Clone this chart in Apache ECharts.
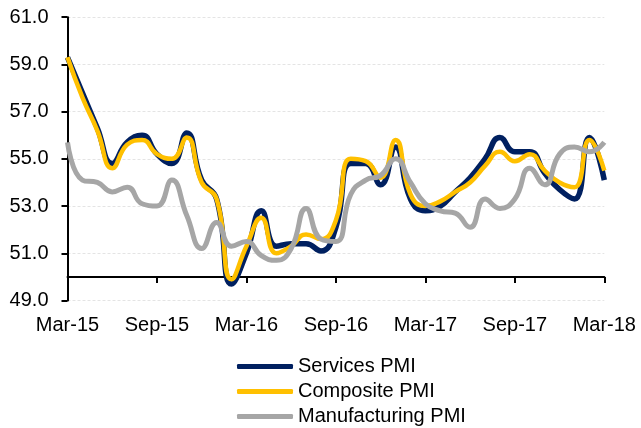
<!DOCTYPE html>
<html>
<head>
<meta charset="utf-8">
<script src="https://cdn.jsdelivr.net/npm/echarts@6/dist/echarts.min.js"></script>
<style>
html,body{margin:0;padding:0;background:#fff;}
#chart{width:641px;height:428px;}
</style>
</head>
<body>
<div id="chart"></div>
<script>
const categories = ["Mar-15","Apr-15","May-15","Jun-15","Jul-15","Aug-15","Sep-15","Oct-15","Nov-15","Dec-15",
  "Jan-16","Feb-16","Mar-16","Apr-16","May-16","Jun-16","Jul-16","Aug-16","Sep-16","Oct-16","Nov-16","Dec-16",
  "Jan-17","Feb-17","Mar-17","Apr-17","May-17","Jun-17","Jul-17","Aug-17","Sep-17","Oct-17","Nov-17","Dec-17",
  "Jan-18","Feb-18","Mar-18"];
const servicesPMI = [59.3,57.8,56.3,54.8,55.7,56.0,55.2,54.8,56.1,54.1,53.3,49.7,51.0,52.8,51.3,51.4,51.4,51.1,52.1,54.8,54.8,53.9,55.5,53.3,52.8,53.0,53.6,54.2,55.0,55.9,55.3,55.3,54.4,53.7,53.3,55.9,54.1];
const compositePMI = [59.3,57.6,56.2,54.6,55.6,55.8,55.2,55.0,55.9,54.0,53.3,49.9,51.3,52.5,51.0,51.3,51.8,51.6,52.4,55.0,54.9,54.2,55.8,53.5,53.0,53.2,53.6,54.0,54.7,55.3,54.9,55.2,54.5,54.0,53.8,55.8,54.5];
const manufacturingPMI = [55.7,54.1,54.0,53.6,53.8,53.1,53.0,54.1,52.6,51.2,52.3,51.3,51.5,50.9,50.7,51.2,52.9,51.6,51.5,53.5,54.1,54.3,55.0,54.0,53.1,52.8,52.7,52.1,53.3,52.9,53.3,54.6,53.9,55.2,55.5,55.3,55.7];
const yTicks = {min: 49, max: 61, step: 2};
const seriesNames = ["Services PMI","Composite PMI","Manufacturing PMI"];

const FONT = "'Liberation Sans', Arial, sans-serif";
const chart = echarts.init(document.getElementById('chart'), null, {renderer: 'canvas'});
chart.setOption({
  animation: false,
  color: ['#002060', '#FFC000', '#A6A6A6'],
  textStyle: {fontFamily: FONT, color: '#000'},
  grid: [
    {left: 67.5, right: 36.7, top: 17.2, bottom: 127.5, containLabel: false},
    {left: 67.5, right: 36.7, top: 17.2, bottom: 151.1, containLabel: false}
  ],
  xAxis: [
    {
      gridIndex: 0, type: 'category', data: categories, boundaryGap: false,
      axisLine: {show: false}, axisTick: {show: false},
      axisLabel: {interval: 5, margin: 15, fontSize: 20, color: '#000', fontFamily: FONT},
      splitLine: {show: false}
    },
    {
      gridIndex: 1, type: 'category', data: categories, boundaryGap: false,
      axisLine: {show: true, lineStyle: {color: '#000', width: 2}},
      axisTick: {show: true, interval: 5, length: 6, lineStyle: {color: '#000', width: 2}},
      axisLabel: {show: false}, splitLine: {show: false}
    }
  ],
  yAxis: [
    {
      gridIndex: 0, type: 'value', min: yTicks.min, max: yTicks.max, interval: yTicks.step,
      axisLine: {show: true, lineStyle: {color: '#000', width: 2}},
      axisTick: {show: true, length: 6, lineStyle: {color: '#000', width: 2}},
      axisLabel: {margin: 19, fontSize: 20, color: '#000', fontFamily: FONT, formatter: v => v.toFixed(1)},
      splitLine: {show: true, lineStyle: {color: '#e4e4e4', type: [3, 2], width: 1}}
    },
    {gridIndex: 1, type: 'value', min: 0, max: 1, show: false}
  ],
  legend: {
    orient: 'vertical', left: 237, top: 356.5, padding: 0,
    itemWidth: 56, itemHeight: 5, itemGap: 5,
    icon: 'roundRect',
    textStyle: {fontSize: 20, lineHeight: 20, color: '#000', fontFamily: FONT},
    data: seriesNames
  },
  series: [
    {name: seriesNames[0], type: 'line', xAxisIndex: 0, yAxisIndex: 0, data: servicesPMI, smooth: true, symbol: 'none', lineStyle: {width: 5.5, color: '#002060'}},
    {name: seriesNames[1], type: 'line', xAxisIndex: 0, yAxisIndex: 0, data: compositePMI, smooth: true, symbol: 'none', lineStyle: {width: 4.5, color: '#FFC000'}},
    {name: seriesNames[2], type: 'line', xAxisIndex: 0, yAxisIndex: 0, data: manufacturingPMI, smooth: true, symbol: 'none', lineStyle: {width: 5, color: '#A6A6A6'}}
  ]
});
</script>
</body>
</html>
